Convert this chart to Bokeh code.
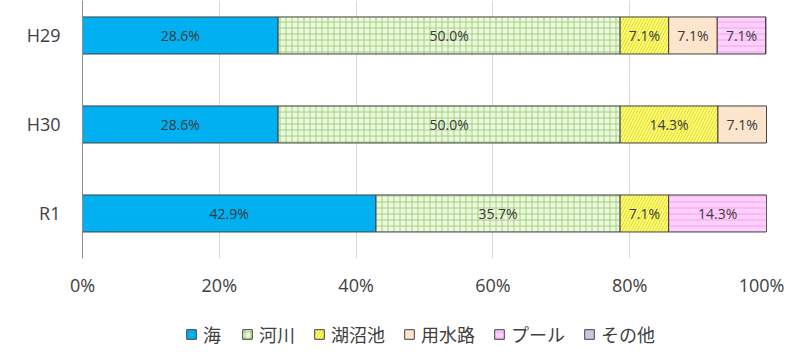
from bokeh.plotting import figure
from bokeh.models import ColumnDataSource, FixedTicker, Legend, LegendItem
from bokeh.layouts import column
from bokeh.embed import file_html
from bokeh.resources import INLINE
from bokeh.core.properties import value

# ---- data ----
years = ["R1", "H30", "H29"]          # bottom to top
series = ["海", "河川", "湖沼池", "用水路", "プール", "その他"]
umi = [42.9, 28.6, 28.6]
kasen = [35.7, 50.0, 50.0]
koshou = [7.1, 14.3, 7.1]
yousui = [0.0, 7.1, 7.1]
pool = [14.3, 0.0, 7.1]
sonota = [0.0, 0.0, 0.0]
x_ticks = [0, 20, 40, 60, 80, 100]
x_tick_labels = ["0%", "20%", "40%", "60%", "80%", "100%"]

values = [umi, kasen, koshou, yousui, pool, sonota]
fills = ["#00b0f0", "#eef7e6", "#ffff7a", "#fde4cc", "#ffd0fb", "#cfc3e3"]
hatches = [" ", "cross", "right_diagonal_line", " ", "horizontal_line", " "]
hatch_colors = ["#00b0f0", "#9fd46e", "#e3d62a", "#fde4cc", "#f2a3ee", "#cfc3e3"]

ypos = list(range(len(years)))
keys = ["s%d" % i for i in range(len(series))]
data = {"y": ypos}
for k, v in zip(keys, values):
    data[k] = v
src = ColumnDataSource(data)


def draw_bars(fig):
    return fig.hbar_stack(keys, y="y", height=0.416, source=src,
                          fill_color=fills, hatch_pattern=hatches, hatch_color=hatch_colors,
                          hatch_scale=6, hatch_weight=1,
                          line_color="#404040", line_width=1)


p = figure(frame_width=684, frame_height=258, output_backend="svg", toolbar_location=None,
           x_range=(0, 100), y_range=(-0.506, 2.393),
           min_border_left=82, min_border_right=18, min_border_top=0, min_border_bottom=0)
p.outline_line_color = None
p.background_fill_color = "white"

draw_bars(p)

# segment labels
lx, ly, lt = [], [], []
for yi in range(len(years)):
    left = 0.0
    for v in values:
        val = v[yi]
        if val > 0:
            lx.append(left + val / 2)
            ly.append(ypos[yi])
            lt.append("%.1f%%" % val)
        left += val
p.text(x=lx, y=ly, text=lt, text_align="center", text_baseline="middle",
       text_font=value("Open Sans"), text_font_size="14px", text_color="#3a3a3a")

# axes
p.xaxis.ticker = FixedTicker(ticks=x_ticks)
p.xaxis.major_label_overrides = {t: l for t, l in zip(x_ticks, x_tick_labels)}
p.xaxis.axis_line_color = None
p.xaxis.major_tick_line_color = None
p.xaxis.minor_tick_line_color = None
p.xaxis.major_label_standoff = 8
p.xaxis.major_label_text_font = "Open Sans"
p.xaxis.major_label_text_font_size = "18px"
p.xaxis.major_label_text_color = "#404040"

p.yaxis.ticker = FixedTicker(ticks=ypos)
p.yaxis.major_label_overrides = {i: n for i, n in zip(ypos, years)}
p.yaxis.axis_line_color = "#8c8c8c"
p.yaxis.major_tick_line_color = None
p.yaxis.minor_tick_line_color = None
p.yaxis.major_label_standoff = 16
p.yaxis.major_label_text_font = "Open Sans"
p.yaxis.major_label_text_font_size = "18px"
p.yaxis.major_label_text_color = "#404040"

p.xgrid.ticker = FixedTicker(ticks=x_ticks)
p.xgrid.grid_line_color = "#d9d9d9"
p.ygrid.grid_line_color = None

# legend strip (bars drawn out of view; only the legend is seen)
p2 = figure(width=784, height=53, output_backend="svg", toolbar_location=None,
            x_range=(0, 100), y_range=(10, 11),
            x_axis_location=None, y_axis_location=None,
            min_border_left=0, min_border_right=0, min_border_top=0, min_border_bottom=0)
p2.outline_line_color = None
p2.grid.grid_line_color = None
leg_renderers = draw_bars(p2)

legend = Legend(items=[LegendItem(label=s, renderers=[r]) for s, r in zip(series, leg_renderers)],
                orientation="horizontal", location=(103, 5),
                glyph_width=12, glyph_height=12, label_standoff=6, spacing=18,
                padding=0, margin=0, border_line_color=None, background_fill_alpha=0,
                label_text_font="Noto Sans CJK JP", label_text_font_size="18px",
                label_text_color="#404040")
p2.add_layout(legend, "center")

layout = column(p, p2, spacing=0)
open("out.html", "w").write(file_html(layout, INLINE))
